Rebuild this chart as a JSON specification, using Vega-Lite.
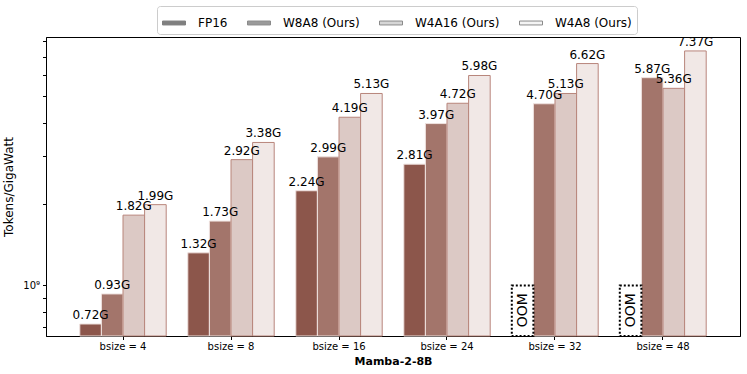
{
  "$schema": "https://vega.github.io/schema/vega-lite/v6.json",
  "width": 694,
  "height": 299,
  "autosize": {"type": "none"},
  "padding": {"left": 46, "top": 37, "right": 7, "bottom": 38},
  "background": "white",
  "config": {
    "font": "DejaVu Sans",
    "view": {"stroke": "black", "strokeWidth": 1},
    "axis": {"domainColor": "black", "tickColor": "black", "labelColor": "black", "titleColor": "black", "grid": false}
  },
  "datasets": {
    "bars": [
      {"bsize": "bsize = 4", "method": "FP16", "value": 0.72},
      {"bsize": "bsize = 4", "method": "W8A8 (Ours)", "value": 0.93},
      {"bsize": "bsize = 4", "method": "W4A16 (Ours)", "value": 1.82},
      {"bsize": "bsize = 4", "method": "W4A8 (Ours)", "value": 1.99},
      {"bsize": "bsize = 8", "method": "FP16", "value": 1.32},
      {"bsize": "bsize = 8", "method": "W8A8 (Ours)", "value": 1.73},
      {"bsize": "bsize = 8", "method": "W4A16 (Ours)", "value": 2.92},
      {"bsize": "bsize = 8", "method": "W4A8 (Ours)", "value": 3.38},
      {"bsize": "bsize = 16", "method": "FP16", "value": 2.24},
      {"bsize": "bsize = 16", "method": "W8A8 (Ours)", "value": 2.99},
      {"bsize": "bsize = 16", "method": "W4A16 (Ours)", "value": 4.19},
      {"bsize": "bsize = 16", "method": "W4A8 (Ours)", "value": 5.13},
      {"bsize": "bsize = 24", "method": "FP16", "value": 2.81},
      {"bsize": "bsize = 24", "method": "W8A8 (Ours)", "value": 3.97},
      {"bsize": "bsize = 24", "method": "W4A16 (Ours)", "value": 4.72},
      {"bsize": "bsize = 24", "method": "W4A8 (Ours)", "value": 5.98},
      {"bsize": "bsize = 32", "method": "W8A8 (Ours)", "value": 4.70},
      {"bsize": "bsize = 32", "method": "W4A16 (Ours)", "value": 5.13},
      {"bsize": "bsize = 32", "method": "W4A8 (Ours)", "value": 6.62},
      {"bsize": "bsize = 48", "method": "W8A8 (Ours)", "value": 5.87},
      {"bsize": "bsize = 48", "method": "W4A16 (Ours)", "value": 5.36},
      {"bsize": "bsize = 48", "method": "W4A8 (Ours)", "value": 7.37}
    ],
    "oom": [
      {"bsize": "bsize = 32", "method": "FP16", "top": 1, "mid": 0.81, "text": "OOM"},
      {"bsize": "bsize = 48", "method": "FP16", "top": 1, "mid": 0.81, "text": "OOM"}
    ]
  },
  "layer": [
    {
      "data": {"name": "bars"},
      "mark": {"type": "bar", "strokeWidth": 1},
      "encoding": {
        "x": {
          "field": "bsize", "type": "nominal", "sort": ["bsize = 4", "bsize = 8", "bsize = 16", "bsize = 24", "bsize = 32", "bsize = 48"],
          "scale": {"paddingInner": 0.2, "paddingOuter": 0.313},
          "axis": {"labelAngle": 0, "labelFontSize": 10, "tickSize": 3.5, "labelPadding": 2, "title": "Mamba-2-8B", "titleFontSize": 11, "titleFontWeight": "bold", "titlePadding": 4}
        },
        "xOffset": {
          "field": "method", "type": "nominal",
          "scale": {"domain": ["FP16", "W8A8 (Ours)", "W4A16 (Ours)", "W4A8 (Ours)"], "paddingInner": 0, "paddingOuter": 0}
        },
        "y": {
          "field": "value", "type": "quantitative",
          "scale": {"type": "log", "domain": [0.65, 8.3], "nice": false},
          "axis": {
            "values": [0.7, 0.8, 0.9, 1, 2, 3, 4, 5, 6, 7, 8],
            "labelExpr": "datum.value == 1 ? '10⁹' : ''",
            "tickSize": 3.5, "labelFontSize": 10, "labelPadding": 3,
            "title": "Tokens/GigaWatt", "titleFontSize": 12, "titleFontWeight": "normal", "titlePadding": 7,
            "encode": {"ticks": {"update": {"x2": {"signal": "datum.value == 1 ? -3.5 : -2"}}}}
          }
        },
        "y2": {"datum": 0.65},
        "fill": {
          "condition": [
            {"test": "datum.method === 'FP16'", "value": "#8c564b"},
            {"test": "datum.method === 'W8A8 (Ours)'", "value": "#a3756b"},
            {"test": "datum.method === 'W4A16 (Ours)'", "value": "#dcc9c5"}
          ],
          "value": "#f1e8e6"
        },
        "stroke": {
          "condition": {"test": "datum.method === 'FP16' || datum.method === 'W8A8 (Ours)'", "value": "#efe2df"},
          "value": "#b8857b"
        }
      }
    },
    {
      "data": {"name": "bars"},
      "transform": [{"filter": "false"}],
      "mark": {"type": "bar", "strokeWidth": 1},
      "encoding": {
        "x": {"field": "bsize", "type": "nominal", "sort": ["bsize = 4", "bsize = 8", "bsize = 16", "bsize = 24", "bsize = 32", "bsize = 48"]},
        "y": {"field": "value", "type": "quantitative"},
        "fill": {
          "field": "method", "type": "nominal",
          "scale": {"domain": ["FP16", "W8A8 (Ours)", "W4A16 (Ours)", "W4A8 (Ours)"], "range": ["#7f7f7f", "#9a9a9a", "#d6d6d6", "#f4f4f4"]},
          "legend": {
            "orient": "none", "legendX": 111, "legendY": -31, "direction": "horizontal", "columns": 4,
            "title": null,
            "symbolType": "M-1,-0.17L1,-0.17L1,0.17L-1,0.17Z", "symbolSize": 529, "symbolStrokeWidth": 1,
            "labelFontSize": 12, "labelOffset": 12, "columnPadding": 17, "padding": 5,
            "strokeColor": "#cccccc", "fillColor": "white", "cornerRadius": 3, "labelColor": "black"
          }
        },
        "stroke": {
          "field": "method", "type": "nominal",
          "scale": {"domain": ["FP16", "W8A8 (Ours)", "W4A16 (Ours)", "W4A8 (Ours)"], "range": ["#7f7f7f", "#8a8a8a", "#8a8a8a", "#8a8a8a"]}
        }
      }
    },
    {
      "data": {"name": "bars"},
      "transform": [{"calculate": "format(datum.value, '.2f') + 'G'", "as": "label"}],
      "mark": {"type": "text", "baseline": "alphabetic", "align": "center", "dy": -5, "fontSize": 12, "color": "black"},
      "encoding": {
        "x": {"field": "bsize", "type": "nominal", "sort": ["bsize = 4", "bsize = 8", "bsize = 16", "bsize = 24", "bsize = 32", "bsize = 48"]},
        "xOffset": {"field": "method", "type": "nominal"},
        "y": {"field": "value", "type": "quantitative"},
        "text": {"field": "label"}
      }
    },
    {
      "data": {"name": "oom"},
      "mark": {"type": "bar", "fill": "white", "stroke": "black", "strokeWidth": 2, "strokeDash": [2, 2]},
      "encoding": {
        "x": {"field": "bsize", "type": "nominal", "sort": ["bsize = 4", "bsize = 8", "bsize = 16", "bsize = 24", "bsize = 32", "bsize = 48"]},
        "xOffset": {"field": "method", "type": "nominal"},
        "y": {"field": "top", "type": "quantitative"},
        "y2": {"datum": 0.65}
      }
    },
    {
      "data": {"name": "oom"},
      "mark": {"type": "text", "angle": 270, "align": "center", "baseline": "middle", "fontSize": 14, "color": "black"},
      "encoding": {
        "x": {"field": "bsize", "type": "nominal", "sort": ["bsize = 4", "bsize = 8", "bsize = 16", "bsize = 24", "bsize = 32", "bsize = 48"]},
        "xOffset": {"field": "method", "type": "nominal"},
        "y": {"field": "mid", "type": "quantitative"},
        "text": {"field": "text"}
      }
    }
  ]
}
